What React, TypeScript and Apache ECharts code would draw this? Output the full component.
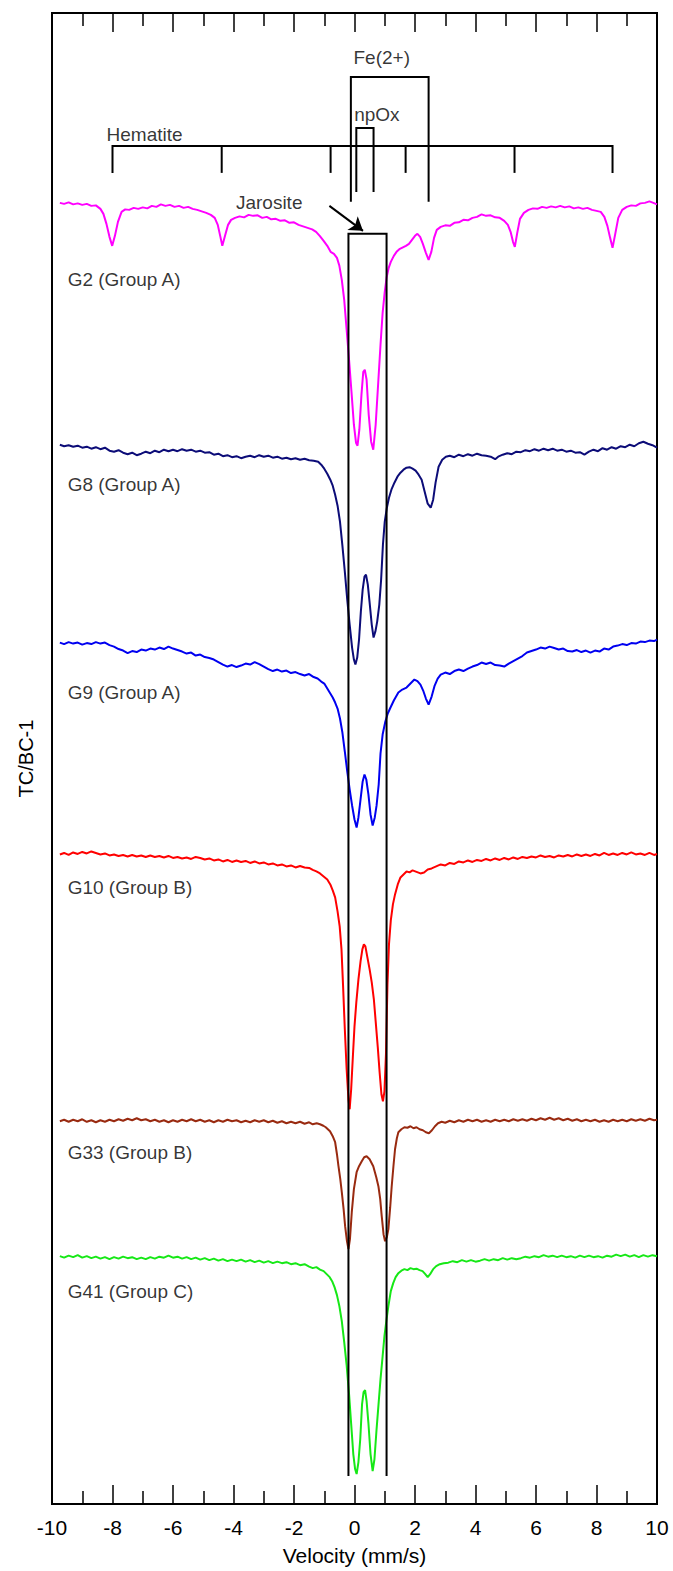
import React, { useEffect, useRef } from "react";
import * as echarts from "echarts";

// Relative transmission (TC/BC-1, arbitrary %) of each Mössbauer spectrum; [velocity mm/s, value]
const g2: [number, number][] = [
  [-9.74,0],[-9.6,-0.1],[-9.45,0.05],[-9.3,-0.15],[-9.15,-0.05],[-9,-0.2],[-8.85,-0.1],[-8.7,-0.3],[-8.55,-0.25],[-8.4,-0.6],[-8.3,-1.1],[-8.2,-2.1],[-8.1,-3.4],[-8.01,-4.3],[-7.92,-3.3],[-7.82,-1.9],[-7.7,-0.9],[-7.58,-0.65],[-7.45,-0.7],[-7.3,-0.5],[-7.15,-0.6],[-7,-0.45],[-6.85,-0.55],[-6.7,-0.3],[-6.55,-0.4],[-6.4,-0.15],[-6.25,-0.3],[-6.1,-0.2],[-5.95,-0.4],[-5.8,-0.3],[-5.65,-0.5],[-5.5,-0.4],[-5.35,-0.6],[-5.2,-0.7],[-5.05,-0.85],[-4.9,-1.0],[-4.75,-1.2],[-4.62,-1.5],[-4.52,-2.2],[-4.44,-3.3],[-4.37,-4.3],[-4.28,-3.3],[-4.18,-2.2],[-4.08,-1.7],[-3.95,-1.5],[-3.8,-1.35],[-3.65,-1.45],[-3.5,-1.2],[-3.35,-1.3],[-3.2,-1.25],[-3.05,-1.5],[-2.9,-1.4],[-2.75,-1.65],[-2.6,-1.6],[-2.45,-1.8],[-2.3,-1.75],[-2.15,-2.0],[-2,-1.95],[-1.85,-2.2],[-1.7,-2.35],[-1.55,-2.5],[-1.4,-2.65],[-1.27,-2.9],[-1.15,-3.3],[-1.02,-3.8],[-0.9,-4.3],[-0.79,-4.9],[-0.68,-5.1],[-0.58,-5.5],[-0.5,-6.3],[-0.42,-7.7],[-0.34,-9.7],[-0.26,-12.7],[-0.18,-15.7],[-0.1,-18.9],[-0.02,-22.2],[0.05,-24.0],[0.1,-24.3],[0.16,-22.7],[0.23,-19.2],[0.29,-16.9],[0.34,-16.7],[0.4,-17.7],[0.47,-21.2],[0.55,-23.9],[0.62,-24.7],[0.7,-22.2],[0.79,-17.7],[0.86,-14.2],[0.93,-11.0],[1,-8.9],[1.06,-7.5],[1.13,-6.5],[1.2,-5.9],[1.3,-5.3],[1.39,-4.9],[1.5,-4.6],[1.6,-4.45],[1.7,-4.3],[1.8,-4.1],[1.9,-3.7],[2,-3.3],[2.08,-3.1],[2.17,-3.4],[2.26,-4.1],[2.36,-5.0],[2.45,-5.7],[2.54,-4.9],[2.63,-3.5],[2.72,-2.7],[2.85,-2.4],[3,-2.25],[3.15,-2.3],[3.3,-2.0],[3.45,-1.95],[3.6,-1.7],[3.75,-1.75],[3.9,-1.5],[4.05,-1.4],[4.2,-1.15],[4.35,-1.3],[4.5,-1.25],[4.65,-1.45],[4.8,-1.5],[4.95,-1.8],[5.07,-2.2],[5.16,-2.9],[5.24,-3.9],[5.3,-4.4],[5.38,-3.0],[5.47,-1.6],[5.6,-1.0],[5.75,-0.7],[5.9,-0.55],[6.05,-0.6],[6.2,-0.4],[6.35,-0.5],[6.5,-0.35],[6.65,-0.45],[6.8,-0.3],[6.95,-0.45],[7.1,-0.35],[7.25,-0.55],[7.4,-0.45],[7.55,-0.6],[7.7,-0.5],[7.85,-0.7],[8,-0.8],[8.14,-0.9],[8.26,-1.4],[8.36,-2.3],[8.45,-3.5],[8.53,-4.5],[8.62,-3.1],[8.72,-1.5],[8.85,-0.7],[9,-0.4],[9.15,-0.25],[9.3,-0.3],[9.45,-0.05],[9.6,0],[9.75,0.15],[9.88,0],[10,-0.15],
];
const g8: [number, number][] = [
  [-9.74,0],[-9.6,-0.15],[-9.45,-0.05],[-9.3,-0.2],[-9.15,-0.1],[-9,-0.3],[-8.85,-0.2],[-8.7,-0.4],[-8.55,-0.25],[-8.4,-0.45],[-8.25,-0.3],[-8.1,-0.6],[-7.95,-0.7],[-7.8,-0.55],[-7.65,-0.8],[-7.5,-0.95],[-7.35,-0.8],[-7.2,-1.05],[-7.05,-0.9],[-6.9,-0.7],[-6.75,-0.85],[-6.6,-0.6],[-6.45,-0.75],[-6.3,-0.5],[-6.15,-0.65],[-6,-0.5],[-5.85,-0.65],[-5.7,-0.45],[-5.55,-0.6],[-5.4,-0.5],[-5.25,-0.7],[-5.1,-0.6],[-4.95,-0.8],[-4.8,-0.75],[-4.65,-1.0],[-4.5,-0.9],[-4.35,-1.15],[-4.2,-1.05],[-4.05,-1.25],[-3.9,-1.15],[-3.75,-1.35],[-3.6,-1.2],[-3.45,-1.1],[-3.3,-1.25],[-3.15,-1.05],[-3,-1.2],[-2.85,-1.1],[-2.7,-1.3],[-2.55,-1.2],[-2.4,-1.4],[-2.25,-1.3],[-2.1,-1.45],[-1.95,-1.35],[-1.8,-1.5],[-1.65,-1.4],[-1.5,-1.55],[-1.35,-1.6],[-1.2,-1.7],[-1.1,-2.0],[-1,-2.4],[-0.9,-2.9],[-0.8,-3.5],[-0.72,-4.1],[-0.64,-5.0],[-0.56,-6.1],[-0.48,-7.7],[-0.4,-10.1],[-0.32,-12.7],[-0.24,-15.5],[-0.16,-18.0],[-0.08,-20.3],[-0.02,-21.5],[0.03,-22.0],[0.09,-21.3],[0.15,-19.5],[0.21,-16.7],[0.27,-14.5],[0.33,-13.2],[0.38,-13.0],[0.44,-14.0],[0.5,-15.8],[0.57,-18.0],[0.63,-19.3],[0.69,-18.7],[0.75,-17.7],[0.82,-16.0],[0.88,-13.5],[0.94,-10.0],[1,-7.7],[1.07,-6.3],[1.14,-5.3],[1.22,-4.5],[1.32,-3.8],[1.42,-3.2],[1.52,-2.8],[1.62,-2.5],[1.72,-2.3],[1.82,-2.25],[1.92,-2.4],[2.02,-2.6],[2.12,-3.0],[2.22,-3.5],[2.32,-4.7],[2.42,-5.9],[2.52,-6.3],[2.6,-5.5],[2.68,-3.8],[2.78,-2.2],[2.9,-1.5],[3.02,-1.2],[3.15,-1.1],[3.3,-1.25],[3.45,-1.0],[3.6,-1.15],[3.75,-0.95],[3.9,-1.1],[4.05,-0.9],[4.2,-1.05],[4.35,-1.1],[4.5,-1.2],[4.65,-1.45],[4.75,-1.2],[4.9,-1.0],[5.05,-0.85],[5.2,-0.95],[5.35,-0.7],[5.5,-0.75],[5.65,-0.55],[5.8,-0.65],[5.95,-0.45],[6.1,-0.6],[6.25,-0.4],[6.4,-0.55],[6.55,-0.4],[6.7,-0.6],[6.85,-0.5],[7,-0.7],[7.15,-0.6],[7.3,-0.8],[7.45,-0.75],[7.6,-1.0],[7.75,-0.7],[7.9,-0.5],[8.05,-0.65],[8.2,-0.35],[8.35,-0.5],[8.5,-0.25],[8.65,-0.4],[8.8,-0.15],[8.95,-0.25],[9.1,0],[9.25,-0.15],[9.4,0.15],[9.55,0.3],[9.7,0.1],[9.85,-0.05],[10,-0.3],
];
const g9: [number, number][] = [
  [-9.74,0],[-9.6,-0.15],[-9.45,0.05],[-9.3,-0.1],[-9.15,0],[-9,-0.2],[-8.85,-0.05],[-8.7,-0.15],[-8.55,0.05],[-8.4,-0.1],[-8.25,0],[-8.1,-0.25],[-7.95,-0.4],[-7.8,-0.65],[-7.65,-0.8],[-7.5,-1.05],[-7.35,-0.85],[-7.2,-0.95],[-7.05,-0.7],[-6.9,-0.8],[-6.75,-0.6],[-6.6,-0.7],[-6.45,-0.5],[-6.3,-0.65],[-6.15,-0.4],[-6,-0.6],[-5.85,-0.75],[-5.7,-0.9],[-5.55,-1.1],[-5.4,-1.0],[-5.25,-1.3],[-5.1,-1.2],[-4.95,-1.45],[-4.8,-1.55],[-4.65,-1.7],[-4.5,-1.95],[-4.35,-2.2],[-4.2,-2.4],[-4.05,-2.25],[-3.9,-2.45],[-3.75,-2.3],[-3.6,-2.1],[-3.45,-2.2],[-3.3,-1.95],[-3.15,-2.15],[-3,-2.4],[-2.85,-2.65],[-2.7,-2.85],[-2.55,-2.7],[-2.4,-2.9],[-2.25,-2.8],[-2.1,-3.05],[-1.95,-2.95],[-1.8,-3.15],[-1.65,-3.3],[-1.5,-3.15],[-1.35,-3.45],[-1.22,-3.6],[-1.1,-3.9],[-1,-4.1],[-0.9,-4.6],[-0.8,-5.1],[-0.72,-5.5],[-0.64,-6.0],[-0.56,-6.6],[-0.48,-7.6],[-0.4,-9.0],[-0.32,-10.9],[-0.24,-12.9],[-0.16,-14.7],[-0.08,-16.3],[0,-17.7],[0.07,-18.5],[0.13,-17.5],[0.2,-15.7],[0.27,-13.9],[0.33,-13.2],[0.39,-13.7],[0.46,-15.2],[0.53,-17.2],[0.6,-18.3],[0.67,-17.5],[0.73,-16.3],[0.8,-14.2],[0.86,-11.1],[0.93,-9.2],[1.02,-7.9],[1.1,-7.1],[1.19,-6.5],[1.3,-5.8],[1.45,-5.0],[1.58,-4.7],[1.72,-4.5],[1.85,-4.1],[1.98,-3.7],[2.08,-3.85],[2.18,-4.2],[2.27,-4.8],[2.36,-5.6],[2.45,-6.2],[2.55,-5.4],[2.65,-4.3],[2.75,-3.6],[2.85,-3.2],[3,-3.0],[3.15,-3.15],[3.3,-2.85],[3.45,-2.7],[3.6,-2.85],[3.75,-2.6],[3.9,-2.4],[4.05,-2.25],[4.2,-2.0],[4.35,-2.15],[4.5,-2.0],[4.65,-2.25],[4.8,-2.3],[4.95,-2.4],[5.1,-2.1],[5.25,-1.85],[5.4,-1.6],[5.55,-1.35],[5.7,-1.0],[5.85,-0.85],[6,-0.7],[6.15,-0.5],[6.3,-0.6],[6.45,-0.4],[6.6,-0.55],[6.75,-0.7],[6.9,-0.6],[7.05,-0.85],[7.2,-0.9],[7.35,-0.75],[7.5,-0.95],[7.65,-0.8],[7.8,-1.0],[7.95,-0.8],[8.1,-0.9],[8.25,-0.6],[8.4,-0.7],[8.55,-0.4],[8.7,-0.3],[8.85,-0.15],[9,-0.25],[9.15,-0.05],[9.3,-0.1],[9.45,0.1],[9.6,0.05],[9.75,0.2],[9.9,0.15],[10,0.3],
];
const g10: [number, number][] = [
  [-9.74,0],[-9.6,0.15],[-9.45,-0.05],[-9.3,0.2],[-9.15,0.05],[-9,0.25],[-8.85,0.1],[-8.7,0.3],[-8.55,0.15],[-8.4,0],[-8.25,0.1],[-8.1,-0.1],[-7.95,0],[-7.8,-0.15],[-7.65,-0.05],[-7.5,-0.2],[-7.35,-0.05],[-7.2,-0.2],[-7.05,-0.1],[-6.9,-0.25],[-6.75,-0.1],[-6.6,-0.25],[-6.45,-0.15],[-6.3,-0.3],[-6.15,-0.15],[-6,-0.35],[-5.85,-0.25],[-5.7,-0.4],[-5.55,-0.3],[-5.4,-0.45],[-5.25,-0.25],[-5.1,-0.35],[-4.95,-0.5],[-4.8,-0.4],[-4.65,-0.6],[-4.5,-0.5],[-4.35,-0.7],[-4.2,-0.55],[-4.05,-0.75],[-3.9,-0.6],[-3.75,-0.75],[-3.6,-0.65],[-3.45,-0.85],[-3.3,-0.7],[-3.15,-0.9],[-3,-0.8],[-2.85,-1.0],[-2.7,-0.9],[-2.55,-1.1],[-2.4,-1.0],[-2.25,-1.2],[-2.1,-1.1],[-1.95,-1.3],[-1.8,-1.15],[-1.65,-1.3],[-1.5,-1.35],[-1.38,-1.55],[-1.26,-1.7],[-1.14,-1.9],[-1.02,-2.2],[-0.9,-2.5],[-0.8,-3.0],[-0.72,-3.6],[-0.64,-4.3],[-0.56,-5.7],[-0.49,-7.2],[-0.43,-9.5],[-0.38,-13.0],[-0.32,-17.5],[-0.26,-21.5],[-0.2,-24.5],[-0.16,-25.5],[-0.11,-23.5],[-0.05,-20.0],[0,-17.2],[0.06,-14.8],[0.13,-12.5],[0.2,-10.7],[0.26,-9.5],[0.31,-9.0],[0.36,-9.2],[0.42,-10.2],[0.5,-11.5],[0.57,-12.8],[0.64,-14.5],[0.7,-16.7],[0.77,-19.3],[0.83,-21.8],[0.89,-24.0],[0.94,-24.7],[0.99,-23.7],[1.04,-20.0],[1.09,-13.0],[1.14,-9.0],[1.2,-6.6],[1.27,-5.0],[1.34,-4.0],[1.43,-3.0],[1.52,-2.3],[1.62,-2.0],[1.72,-1.7],[1.82,-1.8],[1.92,-1.6],[2.05,-1.75],[2.18,-1.9],[2.3,-1.8],[2.42,-1.5],[2.55,-1.4],[2.7,-1.2],[2.85,-1.0],[3,-1.1],[3.15,-0.85],[3.3,-0.95],[3.45,-0.7],[3.6,-0.8],[3.75,-0.6],[3.9,-0.75],[4.05,-0.55],[4.2,-0.65],[4.35,-0.45],[4.5,-0.6],[4.65,-0.4],[4.8,-0.55],[4.95,-0.35],[5.1,-0.5],[5.25,-0.3],[5.4,-0.45],[5.55,-0.25],[5.7,-0.35],[5.85,-0.2],[6,-0.3],[6.15,-0.1],[6.3,-0.25],[6.45,-0.15],[6.6,-0.3],[6.75,-0.1],[6.9,-0.2],[7.05,-0.05],[7.2,-0.2],[7.35,0],[7.5,-0.15],[7.65,0],[7.8,-0.15],[7.95,0.05],[8.1,-0.1],[8.25,0.15],[8.4,-0.05],[8.55,0.1],[8.7,-0.05],[8.85,0.15],[9,0],[9.15,0.2],[9.3,0],[9.45,0.1],[9.6,-0.05],[9.75,0.15],[9.9,-0.05],[10,0.05],
];
const g33: [number, number][] = [
  [-9.74,0],[-9.6,0.15],[-9.45,-0.05],[-9.3,0.15],[-9.15,0],[-9,0.2],[-8.85,-0.05],[-8.7,0.1],[-8.55,-0.1],[-8.4,0.1],[-8.25,-0.05],[-8.1,0.15],[-7.95,0],[-7.8,0.2],[-7.65,0.05],[-7.5,0.25],[-7.35,0.1],[-7.2,0.3],[-7.05,0.1],[-6.9,0.2],[-6.75,0],[-6.6,0.15],[-6.45,-0.05],[-6.3,0.1],[-6.15,-0.1],[-6,0.1],[-5.85,-0.05],[-5.7,0.15],[-5.55,0],[-5.4,0.2],[-5.25,0],[-5.1,0.15],[-4.95,-0.05],[-4.8,0.1],[-4.65,-0.1],[-4.5,0.1],[-4.35,-0.05],[-4.2,0.15],[-4.05,0],[-3.9,0.1],[-3.75,-0.1],[-3.6,0.05],[-3.45,-0.1],[-3.3,0.1],[-3.15,-0.05],[-3,0.1],[-2.85,-0.1],[-2.7,0.05],[-2.55,-0.15],[-2.4,0],[-2.25,-0.2],[-2.1,-0.05],[-1.95,-0.2],[-1.8,-0.05],[-1.65,-0.25],[-1.5,-0.1],[-1.38,-0.3],[-1.25,-0.2],[-1.14,-0.3],[-1.03,-0.45],[-0.95,-0.6],[-0.88,-0.8],[-0.81,-1.0],[-0.72,-1.5],[-0.64,-2.1],[-0.58,-3.3],[-0.53,-4.5],[-0.47,-5.8],[-0.42,-7.1],[-0.36,-8.8],[-0.31,-10.5],[-0.25,-12.0],[-0.2,-12.8],[-0.15,-11.8],[-0.09,-9.1],[-0.02,-6.8],[0.07,-5.1],[0.15,-4.5],[0.24,-4.0],[0.32,-3.6],[0.4,-3.5],[0.5,-3.8],[0.62,-4.5],[0.72,-5.6],[0.79,-6.5],[0.85,-7.8],[0.9,-9.5],[0.96,-11.3],[1.01,-12.0],[1.07,-11.6],[1.12,-10.8],[1.18,-8.6],[1.23,-6.5],[1.29,-4.4],[1.34,-2.8],[1.4,-1.7],[1.45,-1.1],[1.55,-0.8],[1.65,-0.6],[1.75,-0.65],[1.85,-0.5],[1.95,-0.7],[2.05,-0.6],[2.15,-0.8],[2.26,-0.9],[2.36,-1.1],[2.46,-1.2],[2.56,-0.9],[2.66,-0.5],[2.76,-0.2],[2.88,-0.05],[3,-0.15],[3.15,0.05],[3.3,-0.1],[3.45,0.1],[3.6,-0.05],[3.75,0.15],[3.9,0],[4.05,0.15],[4.2,-0.05],[4.35,0.1],[4.5,-0.05],[4.65,0.15],[4.8,0],[4.95,0.15],[5.1,0],[5.25,0.2],[5.4,0.05],[5.55,0.2],[5.7,0.05],[5.85,0.25],[6,0.1],[6.15,0.3],[6.3,0.15],[6.45,0.35],[6.6,0.15],[6.75,0.3],[6.9,0.1],[7.05,0.25],[7.2,0.05],[7.35,0.2],[7.5,0],[7.65,0.15],[7.8,0],[7.95,0.15],[8.1,-0.05],[8.25,0.1],[8.4,-0.05],[8.55,0.15],[8.7,0],[8.85,0.15],[9,0],[9.15,0.2],[9.3,0.05],[9.45,0.2],[9.6,0.05],[9.75,0.25],[9.9,0.1],[10,0.15],
];
const g41: [number, number][] = [
  [-9.74,0],[-9.6,-0.15],[-9.45,0.05],[-9.3,-0.1],[-9.15,0.1],[-9,-0.15],[-8.85,0],[-8.7,-0.2],[-8.55,-0.05],[-8.4,-0.25],[-8.25,-0.1],[-8.1,-0.3],[-7.95,-0.1],[-7.8,-0.25],[-7.65,-0.05],[-7.5,-0.2],[-7.35,-0.1],[-7.2,-0.3],[-7.05,-0.15],[-6.9,-0.3],[-6.75,-0.1],[-6.6,-0.25],[-6.45,-0.05],[-6.3,-0.15],[-6.15,0.05],[-6,-0.15],[-5.85,-0.05],[-5.7,-0.25],[-5.55,-0.1],[-5.4,-0.3],[-5.25,-0.15],[-5.1,-0.35],[-4.95,-0.2],[-4.8,-0.4],[-4.65,-0.25],[-4.5,-0.45],[-4.35,-0.3],[-4.2,-0.5],[-4.05,-0.35],[-3.9,-0.5],[-3.75,-0.35],[-3.6,-0.55],[-3.45,-0.4],[-3.3,-0.6],[-3.15,-0.45],[-3,-0.65],[-2.85,-0.5],[-2.7,-0.7],[-2.55,-0.55],[-2.4,-0.7],[-2.25,-0.6],[-2.1,-0.8],[-1.95,-0.7],[-1.8,-0.9],[-1.65,-0.8],[-1.5,-1.05],[-1.38,-1.2],[-1.26,-1.1],[-1.14,-1.35],[-1.02,-1.5],[-0.92,-1.8],[-0.82,-2.1],[-0.74,-2.5],[-0.66,-3.1],[-0.58,-3.9],[-0.5,-5.0],[-0.42,-6.5],[-0.34,-8.6],[-0.26,-10.9],[-0.18,-13.8],[-0.11,-16.8],[-0.04,-19.8],[0.02,-21.3],[0.07,-21.8],[0.13,-20.6],[0.19,-18.3],[0.25,-14.8],[0.3,-13.6],[0.35,-13.4],[0.4,-14.5],[0.46,-16.7],[0.53,-19.8],[0.6,-21.5],[0.66,-20.3],[0.73,-17.3],[0.8,-14.6],[0.86,-12.3],[0.93,-10.0],[0.99,-8.0],[1.06,-6.3],[1.12,-5.0],[1.2,-3.5],[1.28,-2.7],[1.36,-2.1],[1.45,-1.7],[1.55,-1.45],[1.65,-1.3],[1.75,-1.4],[1.85,-1.2],[1.95,-1.3],[2.05,-1.25],[2.15,-1.4],[2.25,-1.5],[2.34,-1.8],[2.42,-2.1],[2.5,-1.8],[2.6,-1.3],[2.7,-1.0],[2.82,-0.8],[2.95,-0.7],[3.1,-0.65],[3.25,-0.5],[3.4,-0.6],[3.55,-0.4],[3.7,-0.55],[3.85,-0.4],[4,-0.55],[4.15,-0.45],[4.3,-0.3],[4.45,-0.45],[4.6,-0.3],[4.75,-0.4],[4.9,-0.2],[5.05,-0.35],[5.2,-0.2],[5.35,-0.3],[5.5,-0.2],[5.65,-0.05],[5.8,-0.15],[5.95,0],[6.1,-0.1],[6.25,0.1],[6.4,-0.05],[6.55,0.05],[6.7,-0.1],[6.85,0.05],[7,-0.1],[7.15,0],[7.3,-0.15],[7.45,0.05],[7.6,-0.1],[7.75,0.05],[7.9,-0.1],[8.05,0],[8.2,-0.15],[8.35,0.05],[8.5,-0.05],[8.65,0.15],[8.8,0],[8.95,0.15],[9.1,-0.05],[9.25,0.1],[9.4,-0.1],[9.55,0.1],[9.7,-0.05],[9.85,0.1],[10,0],
];

const spectra = [g2, g8, g9, g10, g33, g41];
const spectraNames = ["G2 (Group A)", "G8 (Group A)", "G9 (Group A)", "G10 (Group B)", "G33 (Group B)", "G41 (Group C)"];
const spectraOffsets = [130.2, 106.0, 86.2, 65.0, 38.3, 24.8];
const spectraColors = ["#ff00ff", "#0c0c78", "#0000f0", "#ff0000", "#992a10", "#16e816"];
const spectraLabelX = -9.5;
const spectraLabelY = [122.5, 102.0, 81.2, 61.7, 35.2, 21.3];

// Component markers (velocity positions of lines)
const hematiteLines = [-8.0, -4.39, -0.79, 1.69, 5.29, 8.53];
const fe2Lines = [-0.12, 2.45];
const npOxLines = [0.06, 0.63];
const jarositeLines = [-0.2, 1.06];

// marker levels (y, same units as the stacked spectra)
const hematiteBar = 135.9, hematiteFoot = 133.2;
const fe2Bar = 142.8, fe2Foot = 130.3;
const npOxBar = 137.7, npOxFoot = 131.3;
const jarositeTop = 127.1, jarositeFoot = 2.8;

const annotationTexts = [
  { name: "Fe(2+)", value: [0.9, 144.7] },
  { name: "npOx", value: [0.74, 139.0] },
  { name: "Hematite", value: [-6.94, 137.0] },
  { name: "Jarosite", value: [-2.82, 130.2] },
];
const arrowCoords = [[-0.83, 129.9], [0.28, 127.4]];

const FONT = "'Liberation Sans', Arial, Helvetica, sans-serif";

export default function App() {
  const ref = useRef<HTMLDivElement>(null);
  useEffect(() => {
    document.body.style.margin = "0";
    document.body.style.overflow = "hidden";
    if (!ref.current) return;
    const chart = echarts.init(ref.current, undefined, { renderer: "svg" });

    const spectraSeries = spectra.map((d, i) => ({
      type: "line",
      name: spectraNames[i],
      data: d.map(([x, v]) => [x, spectraOffsets[i] + v]),
      showSymbol: false,
      symbol: "none",
      lineStyle: { color: spectraColors[i], width: 2 },
      z: 2,
      silent: true,
    }));

    const h = hematiteLines;
    const bracketData = [
      { coords: [[h[0], hematiteFoot], [h[0], hematiteBar], [h[5], hematiteBar], [h[5], hematiteFoot]] },
      ...h.slice(1, 5).map((x) => ({ coords: [[x, hematiteBar], [x, hematiteFoot]] })),
      { coords: [[fe2Lines[0], fe2Foot], [fe2Lines[0], fe2Bar], [fe2Lines[1], fe2Bar], [fe2Lines[1], fe2Foot]] },
      { coords: [[npOxLines[0], npOxFoot], [npOxLines[0], npOxBar], [npOxLines[1], npOxBar], [npOxLines[1], npOxFoot]] },
      { coords: [[jarositeLines[0], jarositeFoot], [jarositeLines[0], jarositeTop], [jarositeLines[1], jarositeTop], [jarositeLines[1], jarositeFoot]] },
    ];

    const option = {
      animation: false,
      backgroundColor: "#ffffff",
      textStyle: { fontFamily: FONT, color: "#000" },
      grid: {
        left: 52, right: 16, top: 13, bottom: 66,
        show: true, borderColor: "#000", borderWidth: 2, backgroundColor: "transparent",
      },
      xAxis: [
        {
          type: "value", min: -10, max: 10, interval: 2, position: "bottom",
          name: "Velocity (mm/s)", nameLocation: "middle", nameGap: 41,
          nameTextStyle: { fontSize: 21, color: "#000", fontFamily: FONT },
          axisLine: { show: true, onZero: false, lineStyle: { color: "#000", width: 2 } },
          axisTick: { show: true, inside: true, length: 19, lineStyle: { color: "#000", width: 1.5 } },
          minorTick: { show: true, splitNumber: 2, length: 13, lineStyle: { color: "#000", width: 1.5 } },
          axisLabel: { show: true, fontSize: 21, color: "#000", margin: 13, fontFamily: FONT },
          splitLine: { show: false },
        },
        {
          type: "value", min: -10, max: 10, interval: 2, position: "top",
          axisLine: { show: true, onZero: false, lineStyle: { color: "#000", width: 2 } },
          axisTick: { show: true, inside: true, length: 19, lineStyle: { color: "#000", width: 1.5 } },
          minorTick: { show: true, splitNumber: 2, length: 13, lineStyle: { color: "#000", width: 1.5 } },
          axisLabel: { show: false },
          splitLine: { show: false },
        },
      ],
      yAxis: {
        type: "value", min: 0, max: 149.2,
        name: "TC/BC-1", nameLocation: "middle", nameGap: 16,
        nameTextStyle: { fontSize: 20, color: "#000", fontFamily: FONT },
        axisLine: { show: false }, axisTick: { show: false }, axisLabel: { show: false },
        splitLine: { show: false },
      },
      series: [
        ...spectraSeries,
        {
          type: "lines", coordinateSystem: "cartesian2d", polyline: true,
          data: bracketData,
          lineStyle: { color: "#000", width: 2, opacity: 1 },
          z: 4, silent: true,
        },
        {
          type: "lines", coordinateSystem: "cartesian2d",
          data: [{ coords: arrowCoords }],
          symbol: ["none", "arrow"], symbolSize: 13,
          lineStyle: { color: "#000", width: 2, opacity: 1 },
          itemStyle: { color: "#000" },
          z: 4, silent: true,
        },
        {
          type: "scatter", symbolSize: 1, itemStyle: { color: "rgba(0,0,0,0)" },
          data: spectraNames.map((n, i) => ({ name: n, value: [spectraLabelX, spectraLabelY[i]] })),
          label: { show: true, position: "right", distance: 0, formatter: "{b}", fontSize: 19, color: "#000", fontFamily: FONT },
          z: 5, silent: true,
        },
        {
          type: "scatter", symbolSize: 1, itemStyle: { color: "rgba(0,0,0,0)" },
          data: annotationTexts,
          label: { show: true, position: "inside", formatter: "{b}", fontSize: 19, color: "#000", fontFamily: FONT },
          z: 5, silent: true,
        },
      ],
    };
    chart.setOption(option as any);
    return () => chart.dispose();
  }, []);
  return <div ref={ref} style={{ width: 673, height: 1571 }} />;
}
